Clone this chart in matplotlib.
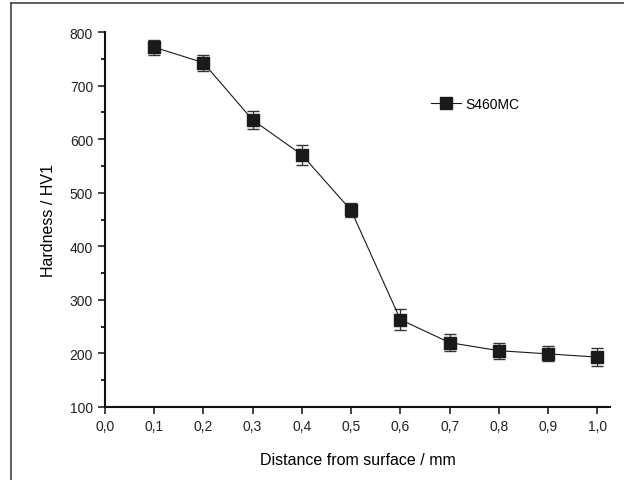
import numpy as np
import matplotlib.pyplot as plt
from matplotlib.lines import Line2D
from matplotlib.ticker import MultipleLocator

plt.rcParams['font.family'] = ['Liberation Sans', 'DejaVu Sans']

#measured hardness profile
distance = [0.1, 0.2, 0.3, 0.4, 0.5, 0.6, 0.7, 0.8, 0.9, 1.0]
hardness = [772, 743, 636, 571, 467, 263, 220, 205, 199, 193]
error = [14, 15, 16, 19, 13, 19, 16, 15, 14, 17]
series_name = "S460MC"

fig = plt.figure(figsize=(6.24, 4.81), dpi=100)
ax = fig.add_axes([0.168, 0.152, 0.81, 0.779])

ax.errorbar(distance, hardness, yerr=error, color='#1a1a1a', lw=0.8,
            marker='s', markersize=8, capsize=4.5, elinewidth=0.9,
            capthick=1.0, ecolor='#333333')

#legend handle: line + square, no error bars
handle = Line2D([], [], color='#1a1a1a', lw=0.8, marker='s', markersize=8)

ax.set_xlim(0, 1.026)
ax.set_ylim(100, 800)
ax.xaxis.set_major_locator(MultipleLocator(0.1))
ax.yaxis.set_major_locator(MultipleLocator(100))
ax.yaxis.set_minor_locator(MultipleLocator(50))
ax.set_xticklabels([f"{v:.1f}".replace('.', ',') for v in ax.get_xticks()])
ax.tick_params(direction='out', length=5, width=1.2, labelsize=10, colors='#222222')
ax.tick_params(which='minor', direction='out', length=3, width=1.2)

for s in ['top', 'right']:
    ax.spines[s].set_visible(False)
for s in ['left', 'bottom']:
    ax.spines[s].set_linewidth(1.5)
    ax.spines[s].set_color('#111111')

ax.set_xlabel("Distance from surface / mm", fontsize=11.5, labelpad=14)
ax.set_ylabel("Hardness / HV1", fontsize=11.5, labelpad=10)

ax.legend([handle], [series_name], loc='upper left', bbox_to_anchor=(0.62, 0.86),
          frameon=False, fontsize=10, handlelength=2.2, handletextpad=0.3)

#outer frame of the original figure
fig.add_artist(Line2D([0.018, 1.0], [0.992, 0.992], color='#444444', lw=1.2, transform=fig.transFigure))
fig.add_artist(Line2D([0.018, 0.018], [0.0, 0.992], color='#444444', lw=1.2, transform=fig.transFigure))

plt.savefig("out.png", dpi=100)
